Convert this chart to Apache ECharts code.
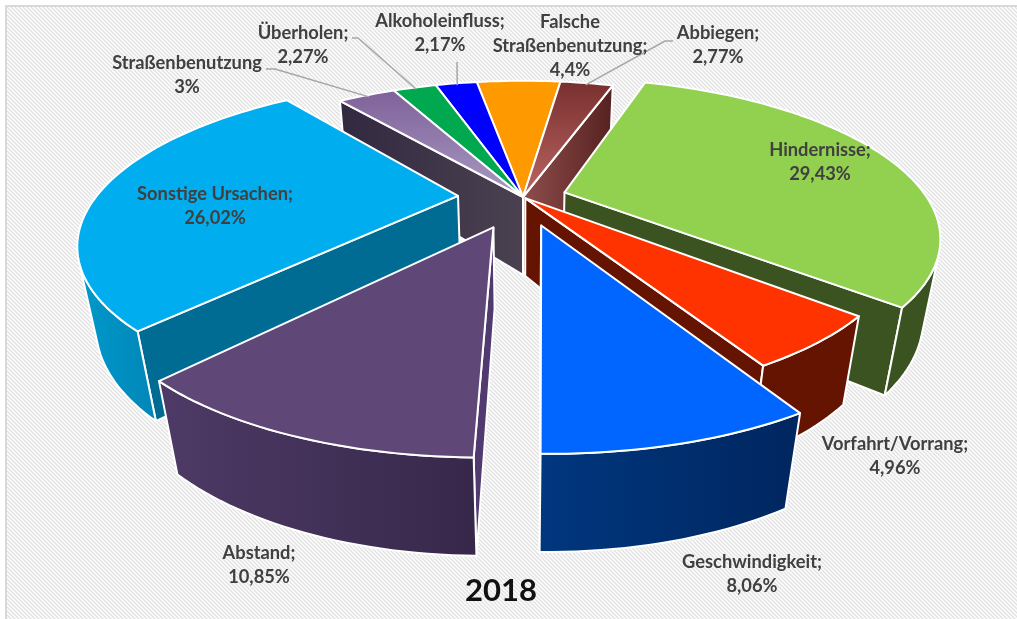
<!DOCTYPE html>
<html>
<head>
<meta charset="utf-8">
<style>html,body{margin:0;padding:0;background:#fff}#c{width:1017px;height:619px}</style>
<script src="https://cdn.jsdelivr.net/npm/echarts@6/dist/echarts.min.js"></script>
</head>
<body>
<div id="c"></div>
<script>
// Data, in the pie's order: clockwise on screen starting from the front of the pie
var categories = ['Abstand','Sonstige Ursachen','Straßenbenutzung','Überholen','Alkoholeinfluss','Falsche\nStraßenbenutzung','Abbiegen','Hindernisse','Vorfahrt/Vorrang','Geschwindigkeit'];
var values = [10.85,26.02,3,2.27,2.17,4.4,2.77,29.43,4.96,8.06];
var labelSeparators = [';',';','',';',';',';',';',';',';',';'];
var chartTitle = '2018';

// Styles and layout, kept apart from the data
var explode = [0.21,0.18,0,0,0,0,0,0.12,0.01,0.19];
var topFill = ['#5F4778','#00AEEF',['#7E6199','#A99AC2','v'],'#00A94F','#0000FF','#FF9900',['#77302F','#BC6662','v'],'#92D050','#FF3300','#0066FF'];
var cutFill = ['#503A70','#006C94',['#322840','#4A4250','h'],'#00A94F','#0000FF','#FF9900',['#8F4E4C','#552120','h'],'#3A5321','#641400','#00377F'];
var outerFill = [['#4E3A66','#37284A','h'],['#0099CC','#0086B6','h'],'#000','#000','#000','#000','#000','#3A5321','#641400',['#00377F','#00265F','h']];
var labelCenter = [[259,565],[215,206],[187,75],[303,45],[440,33],[570,46],[718,45],[820,162],[895,456],[752,574]];
var leaderStart = [null,null,[[266,69],[275,69]],[[352,38],[358,38]],[[457,62]],null,[[673,41],[665,41]],null,null,null];

// Camera model of the tilted pie
var cam = {cx:523, cy:197, R:362, Rk:147.6, a:0.27, b:0.04, H:81};
var firstSliceAngle = 0.85 * Math.PI / 180;
function project(X, Z, low) {
  var D = 1 - cam.a * Z + (low ? cam.b : 0);
  return [cam.cx + X * cam.R / D, cam.cy + (Z * cam.Rk + (low ? cam.H : 0)) / D];
}
function area(p) {
  var s = 0;
  for (var i = 0; i < p.length; i++) {
    var q = p[(i + 1) % p.length];
    s += p[i][0] * q[1] - q[0] * p[i][1];
  }
  return s / 2;
}
function fill(f) {
  if (typeof f === 'string') return f;
  var h = f[2] === 'h';
  return new echarts.graphic.LinearGradient(0, 0, h ? 1 : 0, h ? 0 : 1, [{offset:0,color:f[0]},{offset:1,color:f[1]}]);
}
var total = values.reduce(function (a, b) { return a + b; }, 0);
var starts = [];
values.reduce(function (acc, v, i) { starts[i] = acc; return acc + v / total * Math.PI * 2; }, firstSliceAngle);
function sliceGeom(i) {
  var a0 = starts[i], a1 = a0 + values[i] / total * Math.PI * 2, mid = (a0 + a1) / 2;
  var ex = -Math.sin(mid) * explode[i], ez = Math.cos(mid) * explode[i];
  return {a0:a0, a1:a1, mid:mid, at:function (ang, r, low) {
    return project(-Math.sin(ang) * r + ex, Math.cos(ang) * r + ez, low);
  }};
}
var order = values.map(function (v, i) { return i; }).sort(function (p, q) {
  return Math.cos(sliceGeom(p).mid) - Math.cos(sliceGeom(q).mid);
});
function poly(points, f, rank) {
  return {type:'polygon', z2:rank, shape:{points:points},
    style:{fill:fill(f), stroke:'#fff', lineWidth:2, lineJoin:'round'}};
}

function renderItem(params, api) {
  var i = params.dataIndex, g = sliceGeom(i), rank = order.indexOf(i) + 1, kids = [];
  var n = Math.max(4, Math.ceil((g.a1 - g.a0) / 0.025));
  var arc = [], i2;
  for (i2 = 0; i2 <= n; i2++) arc.push(g.a0 + (g.a1 - g.a0) * i2 / n);

  // cut walls
  var w0 = [g.at(0,0,false), g.at(g.a0,1,false), g.at(g.a0,1,true), g.at(0,0,true)];
  if (area(w0) < 0) kids.push(poly(w0, cutFill[i], rank));
  var w1 = [g.at(g.a1,1,false), g.at(0,0,false), g.at(0,0,true), g.at(g.a1,1,true)];
  if (area(w1) < 0) kids.push(poly(w1, cutFill[i], rank));

  // outer wall, only the parts that face the viewer
  var run = [];
  function flush() {
    if (run.length > 1) {
      var pts = run.map(function (a) { return g.at(a,1,false); })
        .concat(run.slice().reverse().map(function (a) { return g.at(a,1,true); }));
      kids.push(poly(pts, outerFill[i], rank));
    }
    run = [];
  }
  for (i2 = 0; i2 < n; i2++) {
    var q = [g.at(arc[i2],1,false), g.at(arc[i2+1],1,false), g.at(arc[i2+1],1,true), g.at(arc[i2],1,true)];
    if (area(q) < 0) {
      if (!run.length) run.push(arc[i2]);
      run.push(arc[i2+1]);
    } else flush();
  }
  flush();

  // top face
  var top = [g.at(0,0,false)].concat(arc.map(function (a) { return g.at(a,1,false); }));
  kids.push(poly(top, topFill[i], rank));

  // leader line
  if (leaderStart[i]) {
    kids.push({type:'polyline', z2:50, shape:{points:leaderStart[i].concat([g.at(g.mid,0.98,false)])},
      style:{fill:null, stroke:'#a6a6a6', lineWidth:1.5}});
  }
  // data label
  var txt = api.value(0);
  kids.push({type:'text', z2:60, style:{
    text: categories[i] + labelSeparators[i] + '\n' + String(txt).replace('.', ',') + '%',
    x: labelCenter[i][0], y: labelCenter[i][1], align:'center', verticalAlign:'middle',
    fill:'#404040', font:'bold 18.3px Lato, "Open Sans", sans-serif', lineHeight:24
  }});
  return {type:'group', children:kids};
}

// Hatched chart background
var tile = document.createElement('canvas');
tile.width = 4; tile.height = 4;
var t = tile.getContext('2d');
t.fillStyle = '#ffffff'; t.fillRect(0,0,4,4);
t.strokeStyle = '#e2e2e2'; t.lineWidth = 1.5;
[[-1,-1,5,5],[-3,1,1,5],[1,-3,5,1]].forEach(function (s) {
  t.beginPath(); t.moveTo(s[0],s[1]); t.lineTo(s[2],s[3]); t.stroke();
});

var chart = echarts.init(document.getElementById('c'), null, {renderer:'canvas'});
chart.setOption({
  animation:false,
  backgroundColor:'#ffffff',
  title:{text:chartTitle, left:496, top:586, textAlign:'center', textVerticalAlign:'middle',
    textStyle:{fontFamily:'Lato, "Open Sans", sans-serif', fontWeight:'bold', fontSize:31, color:'#111111'}},
  graphic:[
    {type:'rect', z:-10, silent:true, shape:{x:7,y:7,width:1010,height:612}, style:{fill:{image:tile, repeat:'repeat'}}},
    {type:'rect', z:-9, silent:true, shape:{x:5,y:5,width:1012,height:2}, style:{fill:'#d9d9d9'}},
    {type:'rect', z:-9, silent:true, shape:{x:5,y:5,width:2,height:614}, style:{fill:'#d9d9d9'}}
  ],
  series:[{type:'custom', coordinateSystem:'none', renderItem:renderItem, silent:true, clip:false,
    data:values.map(function (v, i) { return {name:categories[i], value:[v]}; })}]
});
</script>
</body>
</html>
